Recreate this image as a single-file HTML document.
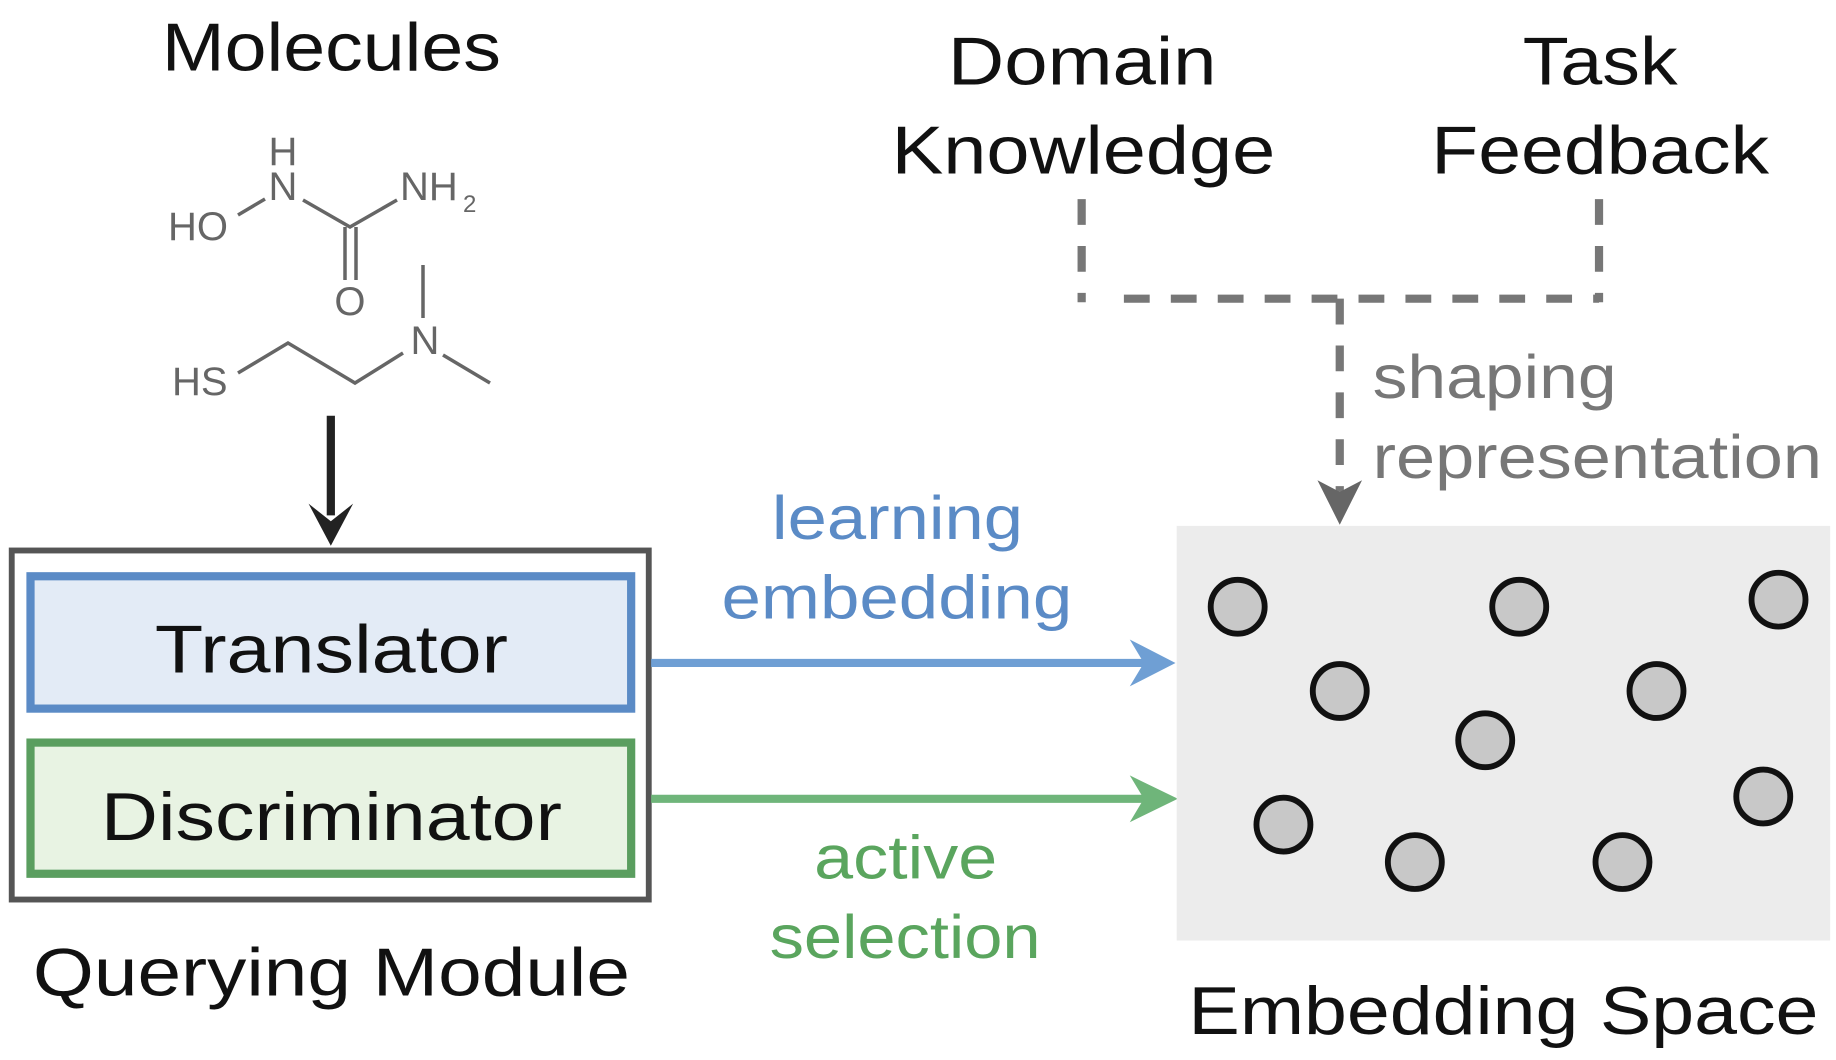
<!DOCTYPE html>
<html><head><meta charset="utf-8"><style>html,body{margin:0;padding:0;background:#fff;}svg{display:block}</style></head>
<body>
<svg width="1836" height="1060" viewBox="0 0 1565 905" preserveAspectRatio="none" xmlns="http://www.w3.org/2000/svg" font-family="Liberation Sans, sans-serif">
<rect width="1565" height="905" fill="#fff"/>
<!-- titles -->
<text x="138" y="60" font-size="58" textLength="289" lengthAdjust="spacingAndGlyphs" fill="#111">Molecules</text>
<text x="808" y="72" font-size="58" textLength="229" lengthAdjust="spacingAndGlyphs" fill="#111">Domain</text>
<text x="760" y="148" font-size="58" textLength="327" lengthAdjust="spacingAndGlyphs" fill="#111">Knowledge</text>
<text x="1298" y="72" font-size="58" textLength="132" lengthAdjust="spacingAndGlyphs" fill="#111">Task</text>
<text x="1220" y="148" font-size="58" textLength="288" lengthAdjust="spacingAndGlyphs" fill="#111">Feedback</text>
<!-- molecule (actual coords) -->
<g transform="scale(0.8524 0.8538)" fill="#666" stroke="#666" stroke-width="3.5" font-size="40">
<g stroke="none">
<text x="283" y="165" text-anchor="middle">H</text>
<text x="283" y="200" text-anchor="middle">N</text>
<text x="400" y="200">NH</text>
<text x="463" y="212" font-size="24">2</text>
<text x="168" y="240">HO</text>
<text x="350" y="315" text-anchor="middle">O</text>
<text x="425" y="354" text-anchor="middle">N</text>
<text x="172" y="395">HS</text>
</g>
<path d="M238 215L265 199M303 200L350 227L397 200M345 227V280M356 227V280M423 265V318M238 373L288 343L355 383L403 353M443 355L490 383" fill="none"/>
</g>
<!-- black arrow -->
<line x1="282" y1="355" x2="282" y2="440" stroke="#222" stroke-width="7"/>
<path d="M263 430L282 466L301 430L282 445Z" fill="#222"/>
<!-- querying module -->
<rect x="10" y="470" width="543" height="298" fill="#fff" stroke="#555" stroke-width="5"/>
<rect x="26" y="492" width="512" height="113" fill="#e3ebf6" stroke="#5b8bc6" stroke-width="7"/>
<rect x="26" y="634" width="512" height="112" fill="#e8f3e3" stroke="#5a9e5f" stroke-width="7"/>
<text x="132" y="574" font-size="58" textLength="301" lengthAdjust="spacingAndGlyphs" fill="#111">Translator</text>
<text x="86" y="717" font-size="58" textLength="393" lengthAdjust="spacingAndGlyphs" fill="#111">Discriminator</text>
<text x="28" y="850" font-size="58" textLength="509" lengthAdjust="spacingAndGlyphs" fill="#111">Querying Module</text>
<!-- arrows -->
<line x1="555" y1="566" x2="985" y2="566" stroke="#6f9fd4" stroke-width="7"/>
<path d="M963 546L1002 566L963 586L975 566Z" fill="#6f9fd4"/>
<line x1="555" y1="682" x2="985" y2="682" stroke="#6fb57a" stroke-width="7"/>
<path d="M963 662L1004 682L963 702L975 682Z" fill="#6fb57a"/>
<text x="658" y="460" font-size="52" textLength="214" lengthAdjust="spacingAndGlyphs" fill="#5b8bc6">learning</text>
<text x="615" y="528" font-size="52" textLength="299" lengthAdjust="spacingAndGlyphs" fill="#5b8bc6">embedding</text>
<text x="694" y="750" font-size="52" textLength="156" lengthAdjust="spacingAndGlyphs" fill="#5aa55e">active</text>
<text x="656" y="818" font-size="52" textLength="231" lengthAdjust="spacingAndGlyphs" fill="#5aa55e">selection</text>
<!-- dashed -->
<g stroke="#777" stroke-width="7" fill="none" stroke-dasharray="22 18">
<path d="M922 170V258"/>
<path d="M1363 170V258"/>
<path d="M958 255H1363"/>
<path d="M1142 255V420" stroke-dasharray="22 18"/>
</g>
<path d="M1123 410L1142 448L1161 410L1142 420Z" fill="#666"/>
<text x="1170" y="340" font-size="52" textLength="208" lengthAdjust="spacingAndGlyphs" fill="#777">shaping</text>
<text x="1170" y="408" font-size="52" textLength="383" lengthAdjust="spacingAndGlyphs" fill="#777">representation</text>
<!-- embedding space -->
<rect x="1003" y="449" width="557" height="354" fill="#ececec"/>
<g fill="#c8c8c8" stroke="#111" stroke-width="5">
<circle cx="1055" cy="518" r="23"/><circle cx="1295" cy="518" r="23"/><circle cx="1516" cy="512" r="23"/>
<circle cx="1142" cy="590" r="23"/><circle cx="1412" cy="590" r="23"/><circle cx="1266" cy="632" r="23"/>
<circle cx="1094" cy="704" r="23"/><circle cx="1206" cy="736" r="23"/><circle cx="1383" cy="736" r="23"/>
<circle cx="1503" cy="680" r="23"/>
</g>
<text x="1013" y="883" font-size="58" textLength="537" lengthAdjust="spacingAndGlyphs" fill="#111">Embedding Space</text>
</svg>
</body></html>
